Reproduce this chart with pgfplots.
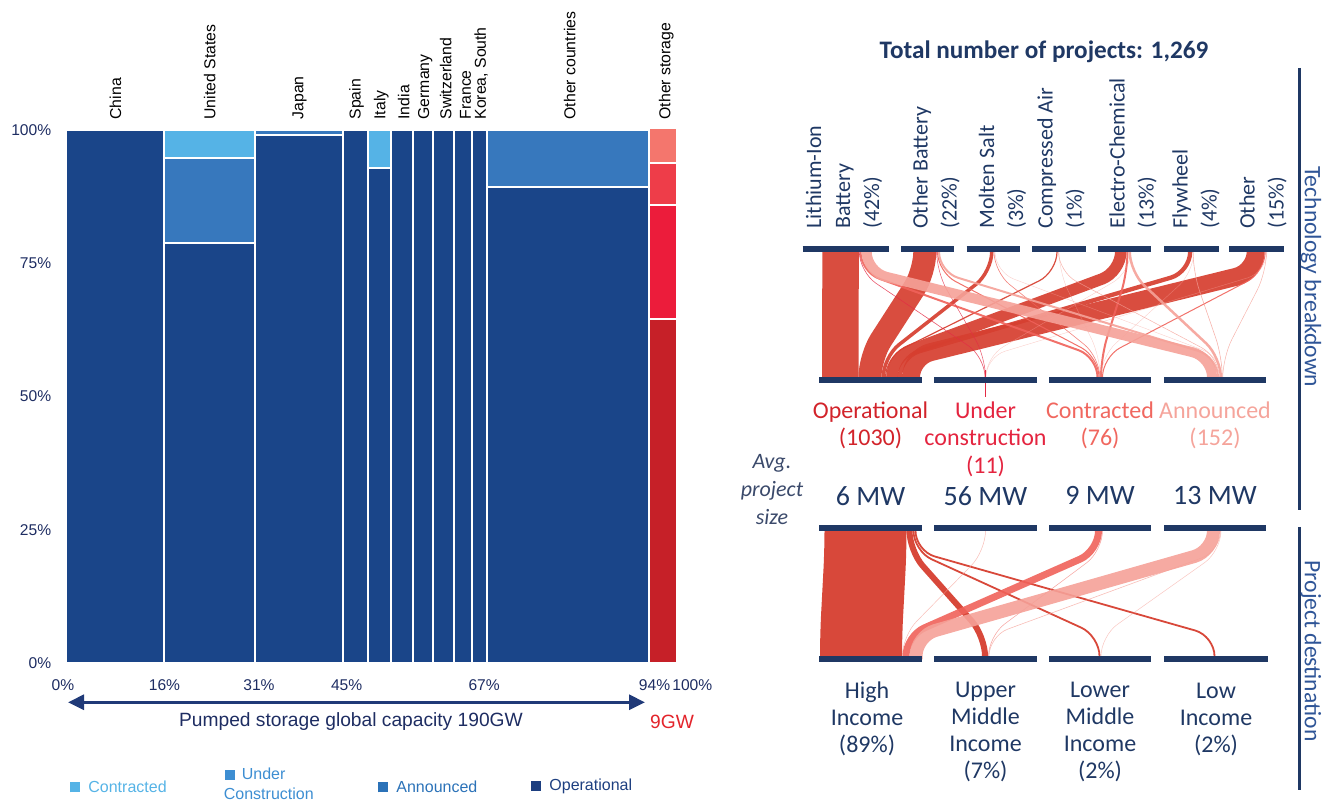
\documentclass[border=0pt]{standalone}
\usepackage{pgfplots}
\pgfplotsset{compat=1.18}
\usepackage{fontspec}
\setmainfont{Carlito}
\newfontfamily\arial{Liberation Sans}
\newfontfamily\calibri{Carlito}
\usetikzlibrary{arrows.meta}

\definecolor{opbar}{HTML}{1A4589}
\definecolor{annbar}{HTML}{3778BD}
\definecolor{conbar}{HTML}{55B3E6}
\definecolor{legcon}{HTML}{55B3E6}
\definecolor{leguc}{HTML}{3D8ED2}
\definecolor{legann}{HTML}{2B72B8}
\definecolor{legop}{HTML}{1D3F80}
\definecolor{navyT}{HTML}{1F3864}
\definecolor{ticknavy}{HTML}{1E2D62}
\definecolor{avgc}{HTML}{3B4A6B}
\definecolor{osA}{HTML}{C62028}
\definecolor{osB}{HTML}{EC1C3B}
\definecolor{osC}{HTML}{EE3D49}
\definecolor{osD}{HTML}{F4766D}
\definecolor{fop}{HTML}{D63E2F}
\definecolor{fuc}{HTML}{E32B45}
\definecolor{fcon}{HTML}{F0625A}
\definecolor{fann}{HTML}{F5A198}
\definecolor{tOp}{HTML}{D2232A}
\definecolor{tUc}{HTML}{E4243F}
\definecolor{tCon}{HTML}{F0675F}
\definecolor{tAnn}{HTML}{F5A49B}
\definecolor{sideblue}{HTML}{2F5597}
\definecolor{redGW}{HTML}{E3242B}
\definecolor{arrowc}{HTML}{203A78}

% flows: x-top, x-bottom, width (px), colour, opacity
\newcommand\fu[5]{\addplot[draw=#4, line width=#3*0.5pt, rounded corners=10pt, opacity=#5] coordinates {(#1,249) (#1,272) (#2,357) (#2,380.3)};}
\newcommand\fl[5]{\addplot[draw=#4, line width=#3*0.5pt, rounded corners=10pt, opacity=#5] coordinates {(#1,528) (#1,551) (#2,636) (#2,659.5)};}
\newcommand\nb[3]{\addplot[draw=navyT, line width=3pt] coordinates {(#1,#3) (#2,#3)};}
\newcommand\rect[5]{\addplot[fill=#5, draw=white, line width=1pt] coordinates {(#1,#3) (#2,#3) (#2,#4) (#1,#4)} -- cycle;}

\begin{document}
\begin{tikzpicture}
% ---------- canvas axis (pixel coordinates) : Sankey + annotations ----------
\begin{axis}[at={(332pt,200.25pt)}, anchor=center, width=664pt, height=400.5pt, scale only axis,
  xmin=0, xmax=1328, ymin=0, ymax=801, y dir=reverse, hide axis, clip=false, enlargelimits=false]
% upper flows: technology -> status
\fu{840.55}{840.25}{36.5}{fop}{0.92}
\fu{924.8}{870}{23}{fop}{0.92}
\fu{991.75}{883.25}{3.5}{fop}{0.92}
\fu{1057}{885.6}{1.2}{fop}{0.92}
\fu{1120.75}{891.95}{11.5}{fop}{0.92}
\fu{1190.15}{899.85}{4.3}{fop}{0.92}
\fu{1255.7}{911}{18}{fop}{0.92}
\fu{860.5}{1097.5}{2}{fcon}{0.9}
\fu{937.5}{1099}{1}{fcon}{0.9}
\fu{994}{1099.8}{0.6}{fcon}{0.8}
\fu{1127.5}{1101}{2}{fcon}{0.9}
\fu{1265.2}{1102.5}{1}{fcon}{0.9}
\fu{859.3}{985}{0.6}{fuc}{0.8}
\fu{936.6}{985.5}{0.5}{fuc}{0.8}
\fu{866.7}{1212}{10}{fann}{0.9}
\fu{939}{1218}{2}{fann}{0.9}
\fu{1058.5}{1219.3}{0.5}{fann}{0.8}
\fu{1129.75}{1220.75}{2.5}{fann}{0.9}
\fu{1193}{1222.3}{0.6}{fann}{0.8}
\fu{1266.5}{1222.8}{0.5}{fann}{0.8}
\fu{995}{1221.5}{0.4}{fann}{0.5}
\fu{1059}{1100.3}{0.4}{fann}{0.5}
\fu{1193.8}{1100.8}{0.4}{fann}{0.5}
\fu{1130.5}{985.8}{0.4}{fann}{0.5}
\fu{1267}{985.9}{0.4}{fann}{0.5}
\addplot[draw=fuc, line width=0.5pt] coordinates {(985,370) (985,397)};
% lower flows: status -> destination
\fl{865.5}{861}{82}{fop}{0.95}
\fl{909.5}{985}{6}{fop}{0.95}
\fl{913.5}{1099.5}{1.8}{fop}{0.95}
\fl{915.5}{1214.5}{1.8}{fop}{0.95}
\fl{985.5}{902.3}{0.5}{fann}{0.7}
\fl{1098.5}{906}{7}{fcon}{0.9}
\fl{1102.5}{988.5}{0.5}{fcon}{0.6}
\fl{1213.5}{916}{13}{fann}{0.9}
\fl{1220.5}{989}{0.6}{fann}{0.7}
\fl{1221}{1101}{0.5}{fann}{0.6}
% nodes
\nb{802.7}{889}{249}\nb{901}{954.3}{249}\nb{966.7}{1020}{249}\nb{1032.3}{1085.7}{249}
\nb{1098.3}{1151}{249}\nb{1164}{1219}{249}\nb{1229.3}{1284.3}{249}
\nb{819.3}{921.7}{380.3}\nb{934}{1036.7}{380.3}\nb{1049}{1151}{380.3}\nb{1164}{1266}{380.3}
\nb{819.3}{921.7}{528}\nb{934}{1036.7}{528}\nb{1049}{1151}{528}\nb{1164}{1266}{528}
\nb{819.3}{921.7}{659.5}\nb{934}{1036.7}{659.5}\nb{1049}{1151}{659.5}\nb{1164}{1268.3}{659.5}
% side rules
\addplot[draw=navyT, line width=1.5pt] coordinates {(1299,68) (1299,510)};
\addplot[draw=navyT, line width=1.5pt] coordinates {(1299,527) (1299,790)};
% arrow under the Marimekko
\addplot[draw=arrowc, line width=1.5pt, {Triangle[length=8pt,width=7.5pt]}-{Triangle[length=8pt,width=7.5pt]}] coordinates {(68,702.3) (645,702.3)};

% ---- texts right panel ----
\node[font=\calibri\bfseries\fontsize{12.6}{15}\selectfont, text=navyT] at (axis cs:1044,52) {Total number of projects: 1,269};
\tikzset{tech/.style={rotate=90, anchor=west, align=left, inner sep=0pt, font=\calibri\fontsize{11}{14.5}\selectfont, text=navyT}}
\node[tech] at (axis cs:844,229) {Lithium-Ion\\Battery\\(42\%)};
\node[tech] at (axis cs:936,229) {Other Battery\\(22\%)};
\node[tech] at (axis cs:1002.5,229) {Molten Salt\\(3\%)};
\node[tech] at (axis cs:1061,229) {Compressed Air\\(1\%)};
\node[tech] at (axis cs:1133,229) {Electro-Chemical\\(13\%)};
\node[tech] at (axis cs:1196,229) {Flywheel\\(4\%)};
\node[tech] at (axis cs:1263,229) {Other\\(15\%)};
\tikzset{stat/.style={align=center, inner sep=0pt, font=\calibri\fontsize{12}{13.75}\selectfont}}
\node[stat, text=tOp] at (axis cs:870.5,425.5) {Operational\\(1030)};
\node[stat, text=tUc] at (axis cs:985.5,439.2) {Under\\construction\\(11)};
\node[stat, text=tCon] at (axis cs:1100,425.5) {Contracted\\(76)};
\node[stat, text=tAnn] at (axis cs:1215,425.5) {Announced\\(152)};
\tikzset{mw/.style={inner sep=0pt, font=\calibri\fontsize{14}{16}\selectfont, text=navyT}}
\node[mw] at (axis cs:870.5,495.7) {6 MW};
\node[mw] at (axis cs:985.5,495.7) {56 MW};
\node[mw] at (axis cs:1100,495.7) {9 MW};
\node[mw] at (axis cs:1215,495.7) {13 MW};
\node[align=center, inner sep=0pt, font=\calibri\itshape\fontsize{11}{14}\selectfont, text=avgc] at (axis cs:772,490) {Avg.\\project\\size};
\tikzset{dest/.style={align=center, inner sep=0pt, font=\calibri\fontsize{12}{13.5}\selectfont, text=navyT}}
\node[dest] at (axis cs:867,719.3) {High\\Income\\(89\%)};
\node[dest] at (axis cs:985.5,732.3) {Upper\\Middle\\Income\\(7\%)};
\node[dest] at (axis cs:1100,732.3) {Lower\\Middle\\Income\\(2\%)};
\node[dest] at (axis cs:1216,719.3) {Low\\Income\\(2\%)};
\node[rotate=-90, inner sep=0pt, font=\calibri\fontsize{11.8}{14}\selectfont, text=sideblue] at (axis cs:1311,277) {Technology breakdown};
\node[rotate=-90, inner sep=0pt, font=\calibri\fontsize{11.8}{14}\selectfont, text=sideblue] at (axis cs:1311,651) {Project destination};

% ---- texts left panel (below) ----
\node[font=\arial\fontsize{9.6}{11}\selectfont, text=ticknavy, inner sep=0pt] at (axis cs:351,722) {Pumped storage global capacity 190GW};
\node[font=\arial\fontsize{9.6}{11}\selectfont, text=redGW, inner sep=0pt] at (axis cs:672,722) {9GW};
\tikzset{leg/.style={anchor=west, inner sep=0pt, font=\arial\fontsize{8}{9}\selectfont}}
\node[leg, text=legcon] at (axis cs:70,786.7) {\rule{5pt}{5pt}\hspace{4pt}Contracted};
\node[leg, text=leguc] at (axis cs:224.4,774) {\rule{5pt}{5pt}\hspace{3.5pt}Under};
\node[leg, text=leguc] at (axis cs:223.5,793.5) {Construction};
\node[leg, text=legann] at (axis cs:378,786.7) {\rule{5pt}{5pt}\hspace{4pt}Announced};
\node[leg, text=legop] at (axis cs:531,786.7) {\rule{5pt}{5pt}\hspace{4pt}Operational};
\end{axis}

% ---------- Marimekko axis ----------
\begin{axis}[at={(33pt,69pt)}, anchor=south west, width=309.75pt, height=266.5pt, scale only axis,
  xmin=0, xmax=100, ymin=0, ymax=100, clip=false, axis lines*=left, axis line style={draw=none},
  major tick length=0pt, xtick=\empty,
  ytick={0,25,50,75,100}, yticklabels={0\%,25\%,50\%,75\%,100\%},
  yticklabel style={anchor=east, inner sep=0pt, xshift=-7.2pt, font=\arial\fontsize{7.8}{9}\selectfont, text=ticknavy}]
\rect{0}{15.85}{0}{100}{opbar}
\rect{15.85}{30.43}{0}{78.86}{opbar}
\rect{15.85}{30.43}{78.86}{94.69}{annbar}
\rect{15.85}{30.43}{94.69}{100}{conbar}
\rect{30.43}{44.71}{0}{99.06}{opbar}
\rect{30.43}{44.71}{99.06}{100}{annbar}
\rect{44.71}{48.67}{0}{100}{opbar}
\rect{48.67}{52.49}{0}{92.8}{opbar}
\rect{48.67}{52.49}{92.8}{100}{conbar}
\rect{52.49}{55.98}{0}{100}{opbar}
\rect{55.98}{59.18}{0}{100}{opbar}
\rect{59.18}{62.71}{0}{100}{opbar}
\rect{62.71}{65.57}{0}{100}{opbar}
\rect{65.57}{67.99}{0}{100}{opbar}
\rect{67.99}{94.08}{0}{89.25}{opbar}
\rect{67.99}{94.08}{89.25}{100}{annbar}
\rect{94.08}{98.66}{0}{64.54}{osA}
\rect{94.08}{98.66}{64.54}{85.93}{osB}
\rect{94.08}{98.66}{85.93}{93.75}{osC}
\rect{94.08}{98.66}{93.75}{100.3}{osD}
\tikzset{xl/.style={inner sep=0pt, font=\arial\fontsize{7.8}{9}\selectfont, text=ticknavy}}
\node[xl] at (axis cs:-0.5,-4.1) {0\%};
\node[xl] at (axis cs:15.9,-4.1) {16\%};
\node[xl] at (axis cs:31.15,-4.1) {31\%};
\node[xl] at (axis cs:45.3,-4.1) {45\%};
\node[xl] at (axis cs:67.5,-4.1) {67\%};
\node[xl] at (axis cs:95,-4.1) {94\%};
\node[xl] at (axis cs:101.1,-4.1) {100\%};
\tikzset{cl/.style={rotate=90, anchor=west, inner sep=0pt, font=\arial\fontsize{7.9}{9}\selectfont, text=black}}
\node[cl] at (axis cs:8.0,101.9) {China};
\node[cl] at (axis cs:23.2,101.9) {United States};
\node[cl] at (axis cs:37.7,101.9) {Japan};
\node[cl] at (axis cs:46.9,101.9) {Spain};
\node[cl] at (axis cs:50.9,101.9) {Italy};
\node[cl] at (axis cs:54.5,101.9) {India};
\node[cl] at (axis cs:58.0,101.9) {Germany};
\node[cl] at (axis cs:61.3,101.9) {Switzerland};
\node[cl] at (axis cs:64.5,101.9) {France};
\node[cl] at (axis cs:67.0,101.9) {Korea, South};
\node[cl] at (axis cs:81.3,101.9) {Other countries};
\node[cl] at (axis cs:96.9,101.9) {Other storage};
\end{axis}
\pgfresetboundingbox
\path[use as bounding box] (0,0) rectangle (664pt,400.5pt);
\end{tikzpicture}
\end{document}
